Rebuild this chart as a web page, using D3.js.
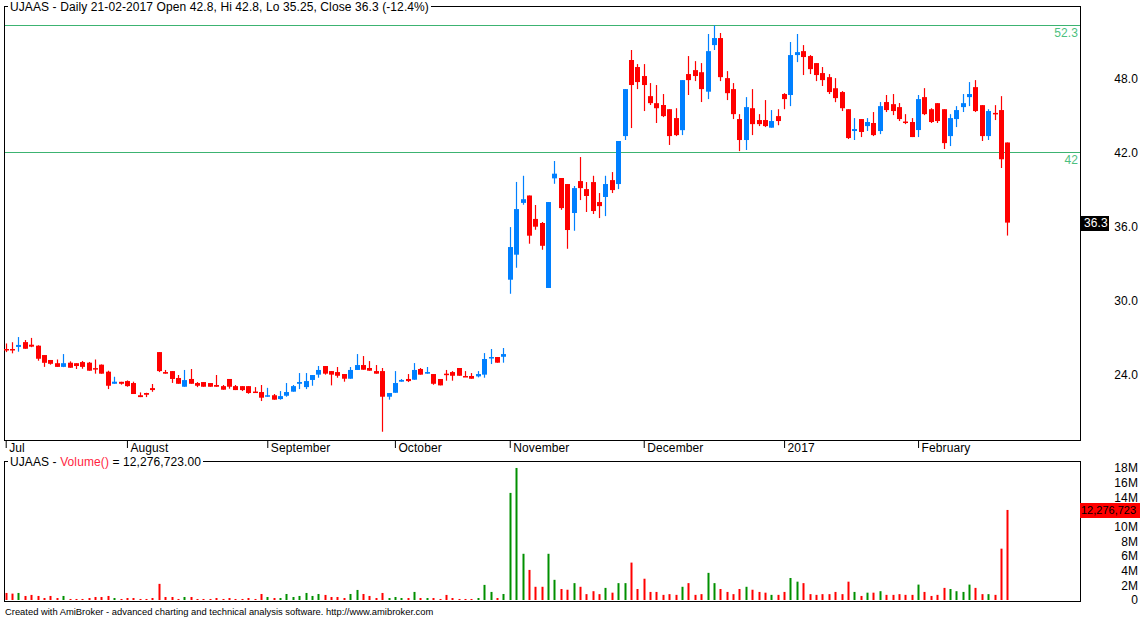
<!DOCTYPE html>
<html>
<head>
<meta charset="utf-8">
<script src="https://cdn.jsdelivr.net/npm/d3@7"></script>
<style>
  body { margin: 0; background: #fff; }
  svg { display: block; }
  text { font-family: "Liberation Sans", Arial, sans-serif; font-size: 12px; letter-spacing: 0.1px; }
</style>
</head>
<body>
<svg id="chart" width="1140" height="619"></svg>
<script>
// UJAAS daily bars, 1 Jul 2016 .. 21 Feb 2017
const ticker = "UJAAS";
const lastDate = "21-02-2017";

const opens = [
  26.05,26.05,26.22,26.61,26.4,26.32,25.56,25.16,24.9,24.6,
  24.94,24.9,24.99,24.94,24.5,24.78,24.21,23.23,23.39,23.45,
  23.29,22.3,22.48,22.88,25.8,24.18,24.26,23.7,22.99,23.62,
  23.29,23.37,23.29,23.13,23.04,23.62,23.04,23.04,23.04,22.6,
  22.56,22.18,22.3,21.99,22.26,22.59,23.23,22.96,23.54,23.97,
  24.67,24.26,24.18,24.02,23.64,24.35,24.75,24.51,24.26,24.26,
  22.18,22.5,23.4,23.62,23.56,24.43,24.05,24.02,23.62,24.05,
  24.18,24.51,23.86,23.86,23.83,23.97,25.35,25.4,25.42,31.67,
  33.7,37.9,38.5,36.6,36.27,31.0,39.89,39.92,39.43,37.08,
  39.67,39.02,39.59,37.97,38.38,39.75,39.43,43.32,49.49,48.92,
  48.19,46.56,45.99,45.84,45.5,44.78,43.8,48.35,48.67,48.5,
  46.92,50.7,51.27,48.02,47.13,44.7,43.0,45.58,44.62,44.62,
  44.0,44.94,46.73,46.65,49.89,50.21,49.81,49.24,48.43,48.1,
  47.2,46.89,45.5,43.73,44.7,44.13,44.38,43.73,46.08,45.91,
  45.67,44.5,44.46,43.81,46.48,45.5,45.99,45.5,43.32,44.7,
  45.67,46.48,47.29,45.83,43.32,45.2,45.43,42.8
];
const highs = [
  26.5,26.6,27.02,26.78,26.95,26.35,25.56,25.16,25.2,25.64,
  25.05,24.9,25.08,25.0,25.2,24.8,24.29,23.8,23.39,23.5,
  23.4,22.53,22.5,23.21,25.8,24.35,24.26,23.94,24.35,24.43,
  23.37,23.37,23.29,23.94,23.13,23.62,23.13,23.04,23.04,22.96,
  23.13,22.9,22.4,22.64,23.29,23.13,24.1,24.1,23.94,24.67,
  24.67,24.26,24.59,24.02,24.59,25.64,25.48,25.07,24.75,24.51,
  22.48,24.26,23.62,24.02,24.91,24.51,24.59,24.02,23.62,24.35,
  24.26,24.51,24.26,24.1,24.26,25.72,26.05,25.4,26.13,35.94,
  39.6,40.1,38.5,37.73,36.35,37.97,41.3,39.92,39.43,39.27,
  41.62,39.59,40.1,38.7,40.1,40.4,42.92,47.13,50.3,49.16,
  49.16,47.62,47.46,46.73,45.5,45.58,47.86,49.81,49.4,49.24,
  51.6,52.3,51.68,48.59,47.62,45.1,46.48,47.13,45.1,46.24,
  45.43,45.5,46.8,50.95,51.6,50.7,49.89,49.24,48.92,48.35,
  48.02,46.97,45.5,44.78,44.7,44.78,45.27,46.08,46.65,46.73,
  46.0,45.1,44.78,46.65,47.21,45.58,45.99,45.5,45.1,45.75,
  46.73,47.7,47.86,45.83,45.5,45.83,46.56,42.8
];
const lows = [
  25.8,25.7,25.83,26.07,26.2,25.1,24.6,24.78,24.6,24.58,
  24.53,24.43,24.45,24.29,24.05,24.05,22.8,23.23,23.16,22.99,
  22.4,22.15,22.15,22.58,24.18,24.05,23.3,23.23,22.99,23.23,
  22.96,22.99,22.99,22.99,22.75,22.83,22.72,22.64,22.42,22.56,
  21.83,22.18,21.94,21.94,22.18,22.59,22.8,22.8,23.07,23.72,
  23.97,23.1,23.72,23.4,23.64,24.35,24.37,24.29,24.05,19.34,
  21.94,22.5,23.4,23.37,23.56,23.97,24.05,23.15,23.1,23.48,
  23.48,23.88,23.83,23.64,23.75,23.72,24.83,24.94,24.94,30.53,
  32.64,37.75,34.59,35.72,34.1,31.0,39.45,37.34,34.18,35.64,
  38.13,37.16,37.0,36.67,36.83,38.7,39.02,43.0,43.97,47.13,
  45.35,45.84,44.38,44.86,42.6,43.32,43.4,46.65,47.78,46.08,
  46.32,50.3,47.78,46.24,44.7,42.1,42.19,43.4,44.13,44.05,
  44.0,44.2,45.5,45.75,49.32,48.27,48.35,47.78,47.38,46.73,
  46.07,45.35,43.08,43.0,43.24,43.73,43.32,43.48,45.27,45.02,
  44.54,44.29,43.24,43.24,45.02,44.38,44.38,42.27,42.51,44.05,
  45.27,45.75,45.27,42.92,43.0,44.62,40.73,35.25
];
const closes = [
  25.98,25.98,26.38,26.07,26.24,25.26,24.93,24.85,24.6,24.9,
  24.53,24.67,24.6,24.29,24.45,24.05,23.07,23.4,23.23,23.04,
  22.4,22.15,22.34,22.72,24.26,24.05,23.62,23.23,23.53,23.23,
  23.07,22.99,22.99,22.99,22.75,22.99,22.72,22.72,22.48,22.56,
  22.1,22.3,21.94,22.23,22.56,23.04,23.37,23.45,23.94,24.35,
  24.05,23.97,23.88,23.64,24.35,24.75,24.37,24.29,24.05,22.18,
  22.48,23.29,23.54,23.45,24.35,23.97,24.18,23.23,23.1,24.0,
  23.88,23.88,23.83,23.64,24.02,25.24,25.4,24.94,25.64,34.32,
  37.4,38.2,35.24,35.97,34.42,37.97,40.27,37.48,35.7,39.1,
  39.1,38.46,37.24,37.64,39.43,38.94,42.92,47.13,47.46,47.7,
  47.46,45.99,45.58,44.94,43.32,43.4,47.86,47.86,48.19,47.13,
  50.21,51.27,48.1,46.8,45.1,43.0,45.67,44.29,44.29,44.13,
  44.54,44.54,46.32,49.89,50.13,49.73,48.75,48.27,47.86,46.89,
  46.4,45.58,43.16,43.89,43.65,44.46,43.4,45.75,45.43,45.35,
  44.7,44.46,43.24,46.32,45.1,44.46,44.54,42.75,44.78,45.43,
  45.99,46.73,45.35,43.32,45.35,45.16,41.44,36.3
];
// volume in millions of shares
const volumeMillions = [
  0.96,0.87,0.96,0.55,0.69,0.55,0.27,0.55,0.27,0.55,
  0.14,0.14,0.14,0.27,0.41,0.41,0.55,0.27,0.14,0.27,
  0.27,0.14,0.14,0.27,2.2,0.41,0.41,0.14,0.41,0.41,
  0.14,0.14,0.14,0.27,0.14,0.27,0.14,0.14,0.27,0.14,
  0.82,0.41,0.27,0.27,0.82,0.41,0.55,0.96,0.55,0.82,
  0.69,0.41,0.41,0.27,0.82,1.37,0.82,0.55,0.27,0.96,
  0.27,0.41,0.27,0.27,1.1,0.27,0.27,0.27,0.14,0.69,
  0.27,0.14,0.14,0.14,0.27,2.06,1.1,0.27,0.82,14.6,
  18.0,6.3,4.1,1.8,1.8,6.3,2.75,1.5,1.4,2.3,
  1.8,0.8,1.2,0.8,1.65,1.0,2.3,2.3,5.1,1.5,
  2.9,1.1,1.1,0.7,0.8,0.7,1.8,2.3,0.7,0.8,
  3.7,2.3,1.5,1.1,0.8,1.5,1.8,1.4,1.1,1.0,
  0.7,0.7,1.1,3.0,2.5,2.3,0.8,0.7,0.8,0.8,
  1.1,0.8,2.5,1.1,0.55,1.0,1.0,1.2,0.7,0.7,
  0.8,0.7,0.7,2.1,1.1,0.55,0.7,1.65,1.5,1.2,
  1.1,2.1,1.65,0.8,0.8,0.7,7.0,12.276723
];

// month labels and the bar index where each month starts
const monthLabels = ["Jul", "August", "September", "October", "November", "December", "2017", "February"];
const monthStart = [0, 19, 41, 61, 79, 100, 122, 143];

const priceTicks = [24, 30, 36, 42, 48];
// 12M sits under the last-volume marker, so it is not shown
const volumeTicks = [0, 2, 4, 6, 8, 10, 14, 16, 18];
const levelLines = [52.3, 42];

// ---- layout / styles ----
const W = 1140, H = 619;
const main = { left: 4, top: 6, right: 1080, bottom: 440 };
const vol = { left: 4, top: 461, right: 1080, bottom: 601 };
const upColor = "#0080ff", downColor = "#ff0000";
const volUp = "#009000", volDown = "#ff0000";
const levelColor = "#3cb371";
const axisFont = '"Liberation Sans", Arial, sans-serif';

const svg = d3.select("#chart");
svg.append("rect").attr("width", W).attr("height", H).attr("fill", "#fff");

const N = closes.length;
const bars = d3.range(N).map(i => ({
  i, o: opens[i], h: highs[i], l: lows[i], c: closes[i], v: volumeMillions[i]
}));

const x = d3.scaleLinear().domain([0, N - 1]).range([5.7, 1007.4]);
const y = d3.scaleLinear().domain([18.67, 53.87]).range([main.bottom, main.top]);
const yv = d3.scaleLinear().domain([0, 18.95]).range([600, vol.top]);

const cx = i => Math.round(x(i));

// ---- panel frames ----
function frame(p) {
  svg.append("rect")
    .attr("x", p.left + 0.5).attr("y", p.top + 0.5)
    .attr("width", p.right - p.left).attr("height", p.bottom - p.top)
    .attr("fill", "none").attr("stroke", "#000").attr("stroke-width", 1);
}
frame(main);
frame(vol);

// ---- level lines ----
levelLines.forEach(v => {
  svg.append("line")
    .attr("x1", main.left + 1).attr("x2", main.right)
    .attr("y1", Math.round(y(v)) + 0.5).attr("y2", Math.round(y(v)) + 0.5)
    .attr("stroke", levelColor).attr("stroke-width", 1);
  svg.append("text")
    .attr("x", main.right - 2).attr("y", y(v) + 12)
    .attr("text-anchor", "end").attr("fill", "#4dbf80")
    .text(v);
});

// ---- candles ----
const candles = svg.append("g");
candles.selectAll("line.wick").data(bars).join("line")
  .attr("class", "wick")
  .attr("x1", d => cx(d.i) + 0.5).attr("x2", d => cx(d.i) + 0.5)
  .attr("y1", d => y(d.h)).attr("y2", d => y(d.l))
  .attr("stroke", d => d.c > d.o ? upColor : downColor)
  .attr("stroke-width", 1.2);
candles.selectAll("rect.body").data(bars).join("rect")
  .attr("class", "body")
  .attr("x", d => cx(d.i) - 2).attr("width", 5)
  .attr("y", d => y(Math.max(d.o, d.c)))
  .attr("height", d => Math.max(1.5, Math.abs(y(d.o) - y(d.c))))
  .attr("fill", d => d.c > d.o ? upColor : downColor);

// ---- month axis ----
const xAxis = d3.axisBottom(x)
  .tickValues(monthStart)
  .tickSize(8)
  .tickFormat((d, k) => monthLabels[k]);
const gx = svg.append("g").attr("transform", `translate(0,${main.bottom})`).call(xAxis);
gx.select(".domain").remove();
gx.selectAll(".tick line").attr("stroke", "#000");
gx.selectAll(".tick text")
  .attr("text-anchor", "start").attr("x", 3).attr("y", 3).attr("dy", "0.71em")
  .attr("fill", "#000")
  .style("font-size", "12px").style("font-family", axisFont);

// ---- price axis ----
const yAxis = d3.axisLeft(y).tickValues(priceTicks).tickSize(0).tickPadding(0)
  .tickFormat(d3.format(".1f"));
const gy = svg.append("g").attr("transform", "translate(1138,0)").call(yAxis);
gy.select(".domain").remove();
gy.selectAll(".tick text").attr("fill", "#000")
  .style("font-size", "12px").style("font-family", axisFont);

// last close marker
const lastClose = closes[N - 1];
svg.append("rect")
  .attr("x", main.right).attr("y", Math.round(y(lastClose)) - 7)
  .attr("width", 29).attr("height", 15).attr("fill", "#000");
svg.append("text")
  .attr("x", main.right + 4).attr("y", y(lastClose) + 4.5)
  .attr("fill", "#fff").text(lastClose.toFixed(1));

// ---- volume bars ----
svg.append("g").selectAll("rect").data(bars).join("rect")
  .attr("x", d => cx(d.i) - 0.5).attr("width", 2)
  .attr("y", d => yv(d.v))
  .attr("height", d => yv(0) - yv(d.v))
  .attr("fill", d => d.c > d.o ? volUp : volDown);

const vAxis = d3.axisLeft(yv).tickValues(volumeTicks).tickSize(0).tickPadding(0)
  .tickFormat(d => d === 0 ? "0" : d + "M");
const gv = svg.append("g").attr("transform", "translate(1138,0)").call(vAxis);
gv.select(".domain").remove();
gv.selectAll(".tick text").attr("fill", "#000")
  .style("font-size", "12px").style("font-family", axisFont);

// last volume marker
const lastVol = volumeMillions[N - 1];
svg.append("rect")
  .attr("x", main.right).attr("y", Math.round(yv(lastVol)) - 7)
  .attr("width", W - main.right).attr("height", 15).attr("fill", "#ff0000");
svg.append("text")
  .attr("x", main.right + 1).attr("y", yv(lastVol) + 4.5)
  .style("font-size", "11px").style("letter-spacing", "0")
  .attr("fill", "#000").text(d3.format(",")(Math.round(lastVol * 1e6)));

// ---- titles ----
const pct = (lastClose / closes[N - 2] - 1) * 100;
function title(yBase, parts) {
  const bg = svg.append("rect").attr("fill", "#fff");
  const t = svg.append("text").attr("x", 10).attr("y", yBase);
  parts.forEach(p => t.append("tspan").attr("fill", p.color).text(p.text));
  const len = t.node().getComputedTextLength();
  bg.attr("x", 8).attr("y", yBase - 10).attr("width", len + 4).attr("height", 13);
}
title(11, [{ text: `${ticker} - Daily ${lastDate} Open ${opens[N - 1]}, Hi ${highs[N - 1]}, Lo ${lows[N - 1]}, Close ${lastClose} (${pct.toFixed(1)}%)`, color: "#000" }]);
title(466, [
  { text: `${ticker} - `, color: "#000" },
  { text: "Volume()", color: "#ff1f3f" },
  { text: ` = ${d3.format(",.2f")(lastVol * 1e6)}`, color: "#000" }
]);

// footer
svg.append("text")
  .attr("x", 5).attr("y", 615)
  .style("font-size", "9.4px").style("letter-spacing", "0")
  .attr("fill", "#000")
  .text("Created with AmiBroker - advanced charting and technical analysis software. http://www.amibroker.com");
</script>
</body>
</html>
